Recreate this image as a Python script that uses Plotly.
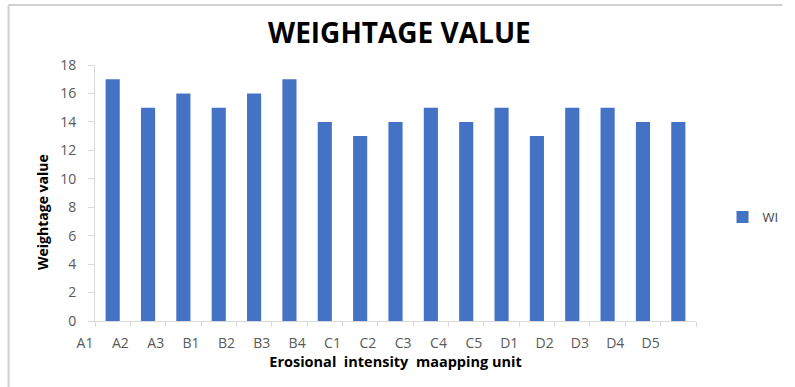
import plotly.graph_objects as go

categories = ["A1", "A2", "A3", "B1", "B2", "B3", "B4", "C1", "C2", "C3", "C4", "C5",
              "D1", "D2", "D3", "D4", "D5"]
wi_values = [17, 15, 16, 15, 16, 17, 14, 13, 14, 15, 14, 15, 13, 15, 15, 14, 14]
y_ticks = [0, 2, 4, 6, 8, 10, 12, 14, 16, 18]

FONT = "Open Sans"
n = len(categories)
x_pos = [i + 0.5 for i in range(n)]

fig = go.Figure()
fig.add_trace(go.Bar(
    x=x_pos, y=wi_values, name="WI",
    marker=dict(color="#4472C4", line=dict(width=0)),
    width=0.4,
))

L, R, T, B = 95, 88, 65, 66
W, H = 795, 387
pw, ph = W - L - R, H - T - B

def px_x(p):
    return (p - L) / pw

def px_y(p):
    return (H - B - p) / ph

fig.update_layout(
    width=W, height=H,
    margin=dict(l=L, r=R, t=T, b=B),
    paper_bgcolor="white", plot_bgcolor="white",
    font=dict(family=FONT, color="#595959"),
    title=dict(text="<b>WEIGHTAGE VALUE</b>", x=px_x(405), xref="paper", xanchor="center",
               y=1 - 33 / H, yanchor="middle",
               font=dict(family=FONT, size=28, color="#000000")),
    showlegend=True,
    legend=dict(x=px_x(734), xanchor="left", y=px_y(217), yanchor="middle",
                font=dict(family=FONT, size=13, color="#404040"),
                itemwidth=30, bgcolor="rgba(0,0,0,0)"),
    shapes=[
        dict(type="line", xref="paper", yref="paper", x0=px_x(7), x1=px_x(795),
             y0=px_y(5), y1=px_y(5), line=dict(color="#d0d0d0", width=2)),
        dict(type="line", xref="paper", yref="paper", x0=px_x(7), x1=px_x(7),
             y0=px_y(5), y1=px_y(387), line=dict(color="#d0d0d0", width=2)),
    ],
    annotations=[
        dict(text="<b>Weightage value</b>", xref="paper", yref="paper",
             x=px_x(41), y=px_y(212), xanchor="center", yanchor="middle",
             textangle=-90, showarrow=False,
             font=dict(family=FONT, size=14, color="#000000")),
    ],
)

fig.update_xaxes(
    range=[0, n], tickmode="array",
    tickvals=list(range(n + 1)), ticktext=categories + [""],
    ticks="outside", ticklen=5, tickcolor="#d9d9d9",
    showline=True, linecolor="#d9d9d9", linewidth=1,
    showgrid=False, zeroline=False,
    ticklabelshift=-10, ticklabelstandoff=4,
    tickfont=dict(family=FONT, size=14, color="#595959"),
    title=dict(text="<b>Erosional  intensity  maapping unit</b>",
               font=dict(family=FONT, size=14.5, color="#000000"), standoff=6),
)
fig.update_yaxes(
    range=[0, 18], tickmode="array", tickvals=y_ticks,
    ticks="outside", ticklen=6, tickcolor="#d9d9d9",
    showline=True, linecolor="#d9d9d9", linewidth=1,
    showgrid=False, zeroline=False,
    ticklabelstandoff=9,
    tickfont=dict(family=FONT, size=14, color="#595959"),
)

fig.write_html("out.html", config={"displayModeBar": False},
               post_script="document.body.style.margin='0';")
